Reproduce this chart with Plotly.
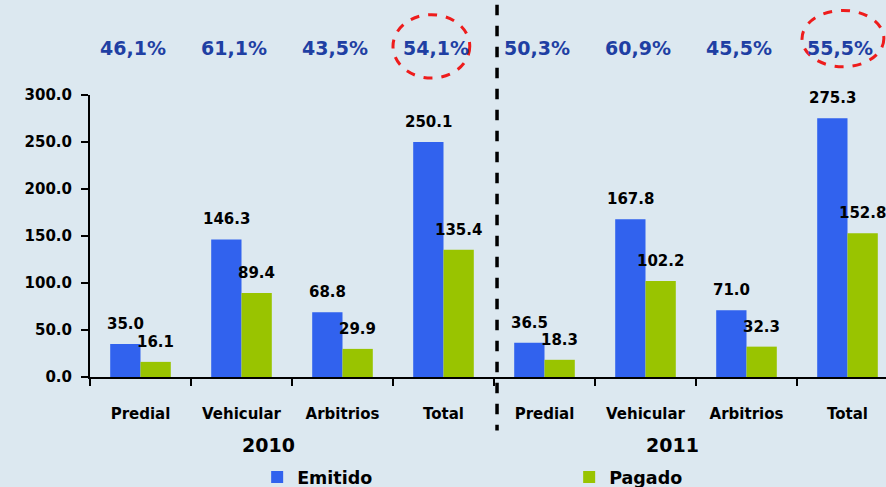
import plotly.graph_objects as go

categories = ["Predial", "Vehicular", "Arbitrios", "Total",
              "Predial", "Vehicular", "Arbitrios", "Total"]
years = ["2010", "2011"]
emitido = [35.0, 146.3, 68.8, 250.1, 36.5, 167.8, 71.0, 275.3]
pagado = [16.1, 89.4, 29.9, 135.4, 18.3, 102.2, 32.3, 152.8]
ratios = ["46,1%", "61,1%", "43,5%", "54,1%", "50,3%", "60,9%", "45,5%", "55,5%"]
y_ticks = [0, 50, 100, 150, 200, 250, 300]

BLUE = "#3162ee"
GREEN = "#99c400"
FONT = "DejaVu Sans"

xs = list(range(len(categories)))

fig = go.Figure()
fig.add_trace(go.Bar(x=xs, y=emitido, name="Emitido", marker_color=BLUE,
                     marker_line_width=0))
fig.add_trace(go.Bar(x=xs, y=pagado, name="Pagado", marker_color=GREEN,
                     marker_line_width=0))

annotations = []
off = 0.15
lbl_font = dict(family=FONT, size=15, color="black", weight="bold")
for i, (e, p) in enumerate(zip(emitido, pagado)):
    annotations.append(dict(x=i - off, y=e, text=f"{e:.1f}", showarrow=False,
                            xref="x", yref="y", yanchor="bottom", yshift=9, font=lbl_font))
    annotations.append(dict(x=i + off, y=p, text=f"{p:.1f}", showarrow=False,
                            xref="x", yref="y", yanchor="bottom", yshift=9, font=lbl_font))
for i, r in enumerate(ratios):
    annotations.append(dict(x=i, y=1.167, text=r, showarrow=False, xref="x", yref="paper",
                            xshift=-8, yanchor="middle",
                            font=dict(family=FONT, size=19, color="#1f3fa3", weight="bold")))
for k, yr in enumerate(years):
    annotations.append(dict(x=k * 4 + 1.5, y=-0.241, text=yr, showarrow=False,
                            xref="x", yref="paper", xshift=-24, yanchor="middle",
                            font=dict(family=FONT, size=19, color="black", weight="bold")))

shapes = [
    dict(type="line", xref="x", yref="paper", x0=3.53, x1=3.53, y0=1.32, y1=-0.19,
         line=dict(color="black", width=3.5, dash="dash")),
    dict(type="circle", xref="x", yref="paper", x0=3 - 0.5, x1=3 + 0.26, y0=1.06, y1=1.285,
         line=dict(color="#ee1c1c", width=3, dash="dash")),
    dict(type="circle", xref="x", yref="paper", x0=7 - 0.45, x1=7 + 0.36, y0=1.10, y1=1.30,
         line=dict(color="#ee1c1c", width=3, dash="dash")),
]

fig.update_layout(
    width=886, height=487,
    margin=dict(l=90, r=0, t=95, b=110, autoexpand=False),
    paper_bgcolor="#dce8f0",
    plot_bgcolor="rgba(0,0,0,0)",
    barmode="group", bargap=0.4, bargroupgap=0,
    showlegend=True,
    legend=dict(orientation="h", x=0.21, xanchor="left", y=-0.355, yanchor="middle",
                entrywidth=267, font=dict(family=FONT, size=17.5, color="black", weight="bold"),
                bgcolor="rgba(0,0,0,0)"),
    annotations=annotations,
    shapes=shapes,
    xaxis=dict(range=[-0.5, -0.5 + 796 / 101], tickmode="array", tickvals=xs,
               ticktext=categories, ticks="", showline=True, linecolor="black",
               linewidth=2, showgrid=False, zeroline=False, ticklabelstandoff=22,
               tickfont=dict(family=FONT, size=15, color="black", weight="bold"),
               minor=dict(tick0=0.5, dtick=1, ticks="outside", ticklen=7,
                          tickwidth=2, tickcolor="black", showgrid=False)),
    yaxis=dict(range=[0, 300], tickmode="array", tickvals=y_ticks,
               ticktext=[f"{v:.1f}" for v in y_ticks], ticks="outside", ticklen=7,
               tickwidth=2, tickcolor="black", showline=True, linecolor="black",
               linewidth=2, showgrid=False, zeroline=False, ticklabelstandoff=6,
               tickfont=dict(family=FONT, size=15, color="black", weight="bold")),
)

fig.write_html("out.html", config={"displayModeBar": False},
               post_script="document.body.style.margin='0';document.body.style.overflow='hidden';")
